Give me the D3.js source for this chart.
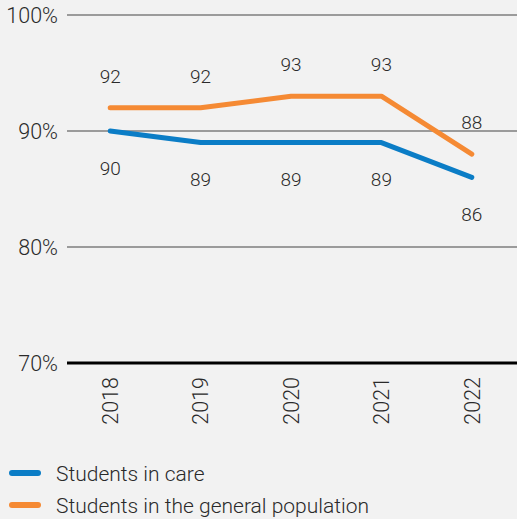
<!DOCTYPE html>
<html><head><meta charset="utf-8">
<script src="https://cdn.jsdelivr.net/npm/d3@7"></script>
<style>
html,body{margin:0;padding:0;background:#f2f2f2;}
svg{display:block;}
text{font-family:Roboto,"Liberation Sans",Arial,sans-serif;font-weight:300;fill:#2a2a2a;}
</style></head>
<body><svg id="c" width="517" height="519"></svg>
<script>
const years = ["2018","2019","2020","2021","2022"];
const inCare = [90, 89, 89, 89, 86];
const general = [92, 92, 93, 93, 88];
const yTicks = [70, 80, 90, 100];
const seriesNames = ["Students in care", "Students in the general population"];
const colors = ["#0b7dc6", "#f58a34"];

const svg = d3.select("#c");
svg.append("rect").attr("width",517).attr("height",519).attr("fill","#f2f2f2");

const x = d3.scalePoint().domain(years).range([65,517]).padding(0.5);
const y = d3.scaleLinear().domain([70,100]).range([363,15]);

const g = svg.append("g");
yTicks.forEach(t=>{
  g.append("line").attr("x1",67).attr("x2",517).attr("y1",y(t)).attr("y2",y(t))
   .attr("stroke", t===70 ? "#000" : "#444").attr("stroke-width", t===70?3:1.1);
  g.append("text").attr("x",58).attr("y",y(t)).attr("dy","0.36em").attr("text-anchor","end")
   .attr("font-size",21.5).text(t+"%");
});

years.forEach(yr=>{
  svg.append("text").attr("transform",`translate(${x(yr)},377) rotate(-90)`)
   .attr("text-anchor","end").attr("dy","0.36em").attr("font-size",21.5).text(yr);
});

const line = d3.line().x((d,i)=>x(years[i])).y(d=>y(d));
[inCare, general].forEach((s,k)=>{
  svg.append("path").attr("d",line(s)).attr("fill","none").attr("stroke",colors[k])
   .attr("stroke-width",5).attr("stroke-linecap","round").attr("stroke-linejoin","round");
});

inCare.forEach((v,i)=>{
  svg.append("text").attr("x",x(years[i])).attr("y",y(v)+37).attr("dy","0.36em")
   .attr("text-anchor","middle").attr("font-size",19).text(v);
});
general.forEach((v,i)=>{
  svg.append("text").attr("x",x(years[i])).attr("y",y(v)-32).attr("dy","0.36em")
   .attr("text-anchor","middle").attr("font-size",19).text(v);
});

seriesNames.forEach((n,k)=>{
  const ly = 473 + k*32;
  svg.append("line").attr("x1",12).attr("x2",38).attr("y1",ly).attr("y2",ly)
   .attr("stroke",colors[k]).attr("stroke-width",6).attr("stroke-linecap","round");
  svg.append("text").attr("x",56).attr("y",ly).attr("dy","0.36em").attr("font-size",21).text(n);
});
</script></body></html>
